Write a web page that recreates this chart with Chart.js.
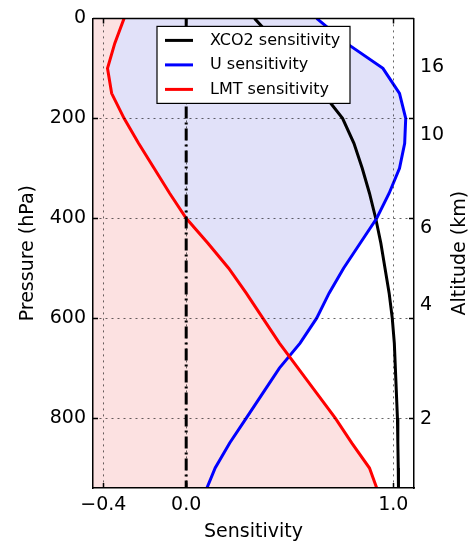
<!DOCTYPE html>
<html>
<head>
<meta charset="utf-8">
<script src="https://cdn.jsdelivr.net/npm/chart.js@4/dist/chart.umd.min.js"></script>
<style>
  html, body { margin: 0; padding: 0; background: #fff; }
  #wrap { width: 473px; height: 543px; }
</style>
</head>
<body>
<div id="wrap"><canvas id="chart"></canvas></div>
<script>
// Niveles de presión (hPa) comunes a las tres curvas
const pressure = [0, 50, 100, 150, 200, 250, 300, 350, 400, 450, 500, 550, 600, 650, 700, 750, 800, 850, 900, 940];
const xco2Sens = [0.33, 0.44, 0.55, 0.66, 0.755, 0.81, 0.85, 0.885, 0.915, 0.94, 0.96, 0.98, 0.995, 1.005, 1.01, 1.015, 1.02, 1.022, 1.024, 1.025];
const uSens    = [0.63, 0.775, 0.95, 1.03, 1.06, 1.055, 1.03, 0.98, 0.92, 0.84, 0.76, 0.69, 0.63, 0.55, 0.45, 0.37, 0.29, 0.21, 0.14, 0.10];
const lmtSens  = [-0.30, -0.345, -0.38, -0.36, -0.30, -0.23, -0.155, -0.08, 0.0, 0.105, 0.205, 0.29, 0.37, 0.45, 0.54, 0.63, 0.72, 0.80, 0.885, 0.92];

// Ejes
const xTicks = [-0.4, 0.0, 1.0];
const pTicks = [0, 200, 400, 600, 800];
const altLabels = [16, 10, 6, 4, 2];
const altPressure = [97, 234, 419, 574, 802];

const X_MIN = -0.45, X_MAX = 1.1, P_MAX = 940;
const FONT = 'DejaVu Sans';

const toPoints = (xs) => xs.map((v, i) => ({ x: v, y: pressure[i] }));
const fmtX = (v) => (v < 0 ? '\u2212' : '') + Math.abs(v).toFixed(1);

// Leyenda con marco, borde superior, marcas interiores y título derecho
const extras = {
  id: 'extras',
  afterDraw(chart) {
    const { ctx, chartArea: a, scales } = chart;
    ctx.save();
    ctx.strokeStyle = '#000';
    ctx.lineWidth = 1.5;
    ctx.beginPath();
    ctx.moveTo(a.left, a.top);
    ctx.lineTo(a.right, a.top);
    // marcas hacia dentro (estilo clásico)
    const L = 5;
    xTicks.forEach(v => {
      const px = Math.round(scales.x.getPixelForValue(v)) + 0.5;
      ctx.moveTo(px, a.bottom); ctx.lineTo(px, a.bottom - L);
      ctx.moveTo(px, a.top); ctx.lineTo(px, a.top + L);
    });
    pTicks.forEach(v => {
      const py = Math.round(scales.y.getPixelForValue(v)) + 0.5;
      ctx.moveTo(a.left, py); ctx.lineTo(a.left + L, py);
      ctx.moveTo(a.right, py); ctx.lineTo(a.right - L, py);
    });
    ctx.stroke();

    // título del eje derecho (se lee de abajo hacia arriba)
    ctx.fillStyle = '#000';
    ctx.font = '19px "' + FONT + '"';
    ctx.textAlign = 'center';
    ctx.textBaseline = 'middle';
    ctx.translate(460, (a.top + a.bottom) / 2);
    ctx.rotate(-Math.PI / 2);
    ctx.fillText('Altitude (km)', 0, 0);
    ctx.restore();

    // leyenda
    const items = chart.data.datasets.filter(d => d.label);
    const bx = a.left + 64, by = a.top + 8, bw = 193, bh = 77;
    ctx.save();
    ctx.fillStyle = '#fff';
    ctx.fillRect(bx, by, bw, bh);
    ctx.strokeStyle = '#000';
    ctx.lineWidth = 1.2;
    ctx.strokeRect(bx, by, bw, bh);
    ctx.font = '16px "' + FONT + '"';
    ctx.textBaseline = 'middle';
    ctx.textAlign = 'left';
    items.forEach((d, i) => {
      const y = by + 14 + i * 24.5;
      ctx.strokeStyle = d.borderColor;
      ctx.lineWidth = 3;
      ctx.beginPath();
      ctx.moveTo(bx + 8, y);
      ctx.lineTo(bx + 36, y);
      ctx.stroke();
      ctx.fillStyle = '#000';
      ctx.fillText(d.label, bx + 53, y);
    });
    ctx.restore();
  }
};

new Chart(document.getElementById('chart'), {
  type: 'line',
  data: {
    datasets: [
      {
        label: 'XCO2 sensitivity',
        data: toPoints(xco2Sens),
        borderColor: '#000000',
        borderWidth: 3,
        pointRadius: 0,
        fill: false,
        order: 2
      },
      {
        label: 'U sensitivity',
        data: toPoints(uSens),
        borderColor: '#0000ff',
        backgroundColor: 'rgb(225, 225, 249)',
        borderWidth: 3,
        pointRadius: 0,
        fill: { target: 2 },
        order: 1
      },
      {
        label: 'LMT sensitivity',
        data: toPoints(lmtSens),
        borderColor: '#ff0000',
        backgroundColor: 'rgb(252, 225, 225)',
        borderWidth: 3,
        pointRadius: 0,
        fill: { value: X_MIN },
        order: 0
      },
      {
        // línea vertical en cero (guion-punto)
        data: [{ x: 0, y: 0 }, { x: 0, y: P_MAX }],
        borderColor: '#000000',
        borderWidth: 3,
        borderDash: [12, 4, 2, 4],
        pointRadius: 0,
        fill: false,
        order: -1
      }
    ]
  },
  options: {
    indexAxis: 'y',
    responsive: true,
    maintainAspectRatio: false,
    animation: false,
    layout: { padding: { top: 14, left: 0, right: 0, bottom: 0 } },
    plugins: {
      legend: { display: false },
      tooltip: { enabled: false },
      filler: { drawTime: 'beforeDatasetsDraw' }
    },
    scales: {
      x: {
        type: 'linear',
        position: 'bottom',
        min: X_MIN,
        max: X_MAX,
        afterBuildTicks: (s) => { s.ticks = xTicks.map(v => ({ value: v })); },
        afterFit: (s) => { s.height = 55; },
        ticks: {
          color: '#000',
          font: { family: FONT, size: 19 },
          padding: 6,
          maxRotation: 0,
          callback: (v) => fmtX(v)
        },
        grid: { color: 'rgba(0,0,0,0.6)', lineWidth: 1, drawTicks: false, z: 1 },
        border: { color: '#000', width: 1.5, dash: [2, 4], z: 1 },
        title: {
          display: true,
          text: 'Sensitivity',
          color: '#000',
          font: { family: FONT, size: 19 },
          padding: { top: 0, bottom: 0 }
        }
      },
      y: {
        type: 'linear',
        position: 'left',
        min: 0,
        max: P_MAX,
        reverse: true,
        afterBuildTicks: (s) => { s.ticks = pTicks.map(v => ({ value: v })); },
        afterFit: (s) => { s.width = 93; },
        ticks: {
          color: '#000',
          font: { family: FONT, size: 19 },
          padding: 7
        },
        grid: { color: 'rgba(0,0,0,0.6)', lineWidth: 1, drawTicks: false, z: 1 },
        border: { color: '#000', width: 1.5, dash: [2, 4], z: 1 },
        title: {
          display: true,
          text: 'Pressure (hPa)',
          color: '#000',
          font: { family: FONT, size: 19 },
          padding: { top: 17, bottom: 0 }
        }
      },
      y2: {
        type: 'linear',
        position: 'right',
        min: 0,
        max: P_MAX,
        reverse: true,
        afterBuildTicks: (s) => { s.ticks = altPressure.map(v => ({ value: v })); },
        afterFit: (s) => { s.width = 59; },
        ticks: {
          color: '#000',
          font: { family: FONT, size: 19 },
          padding: 6,
          callback: (v) => {
            const i = altPressure.indexOf(v);
            return i >= 0 ? String(altLabels[i]) : '';
          }
        },
        grid: { drawOnChartArea: false, drawTicks: false },
        border: { color: '#000', width: 1.5, z: 1 }
      }
    }
  },
  plugins: [extras]
});
</script>
</body>
</html>
